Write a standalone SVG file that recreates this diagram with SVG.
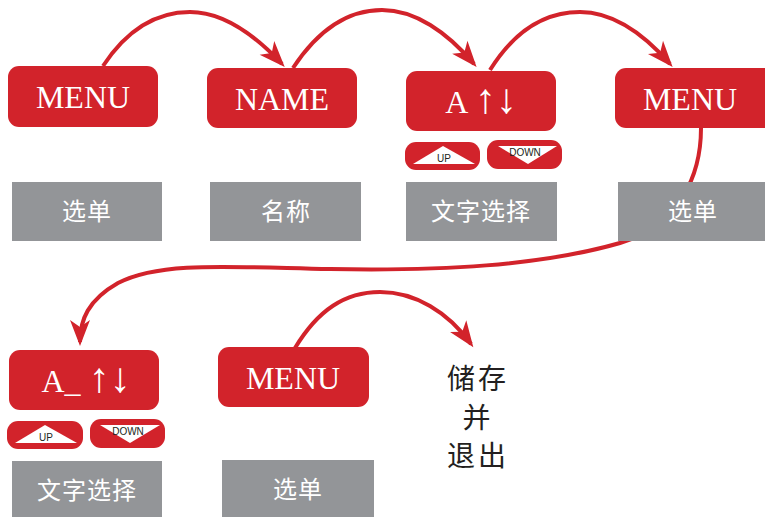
<svg xmlns="http://www.w3.org/2000/svg" width="765" height="517" viewBox="0 0 765 517">
<style>
.rb{fill:#d2232b}
.gb{fill:#939598}
.rt{fill:#fff;font-family:"Liberation Serif",serif;font-size:32px;text-anchor:middle}
.ar{font-size:42px}
.gt{fill:#fff;font-family:"Noto Sans CJK SC",sans-serif;font-size:24px;text-anchor:middle;letter-spacing:1px}
.tri{fill:#fff}
.st{fill:#231f20;font-family:"Liberation Sans",sans-serif;font-size:10px;text-anchor:middle}
.bt{fill:#231f20;font-family:"Noto Sans CJK SC",sans-serif;font-size:28px;text-anchor:middle;letter-spacing:3px}
.ln{fill:none;stroke:#d2232b;stroke-width:4}
</style>
<defs>
<marker id="ah" markerUnits="userSpaceOnUse" markerWidth="40" markerHeight="30" viewBox="-30 -15 40 30" refX="0" refY="0" orient="auto">
<path d="M4,0 L-22,-10 L-15,0 L-22,10 Z" fill="#d2232b"/>
</marker>
</defs>
<g id="connectors">
<path class="ln" marker-end="url(#ah)" d="M103,66 C130,25 160,12 190,12 C222,12 252,32 282,64"/>
<path class="ln" marker-end="url(#ah)" d="M293,68 C318,30 348,10 382,10 C415,10 447,32 474,64"/>
<path class="ln" marker-end="url(#ah)" d="M490,70 C515,30 545,12 580,12 C612,12 642,32 670,64"/>
<path class="ln" marker-end="url(#ah)" d="M701,128 C701,175 680,225 620,243 C540,266 440,271 330,269 C230,267 160,261 118,283 C88,300 80,320 80,342"/>
<path class="ln" marker-end="url(#ah)" d="M295,348 C318,310 345,292 380,292 C415,292 448,312 471,344"/>
</g>
<g id="n1"><rect class="rb" x="8" y="66" width="150" height="61" rx="11"/><text class="rt" x="83" y="108">MENU</text></g>
<g id="n2"><rect class="rb" x="207" y="68" width="150" height="60" rx="11"/><text class="rt" x="282" y="110">NAME</text></g>
<g id="n3"><rect class="rb" x="406" y="71" width="150" height="60" rx="11"/><text class="rt" x="481" y="113">A <tspan class="ar">↑↓</tspan></text></g>
<g id="n4"><rect class="rb" x="615" y="68" width="160" height="60" rx="11"/><text class="rt" x="690" y="110">MENU</text></g>
<g id="up1"><rect class="rb" x="405" y="142" width="75" height="28" rx="11"/><polygon class="tri" points="413,164 443,146 475,164"/><text class="st" x="444" y="162">UP</text></g>
<g id="down1"><rect class="rb" x="487" y="140" width="75" height="29" rx="11"/><polygon class="tri" points="498,146 557,146 528,164"/><text class="st" x="525" y="156">DOWN</text></g>
<g id="g1"><rect class="gb" x="12" y="182" width="150" height="59"/><text class="gt" x="87" y="220">选单</text></g>
<g id="g2"><rect class="gb" x="210" y="182" width="151" height="59"/><text class="gt" x="286" y="220">名称</text></g>
<g id="g3"><rect class="gb" x="406" y="182" width="151" height="59"/><text class="gt" x="481" y="220">文字选择</text></g>
<g id="g4"><rect class="gb" x="618" y="182" width="150" height="59"/><text class="gt" x="693" y="220">选单</text></g>
<g id="n5"><rect class="rb" x="9" y="350" width="150" height="60" rx="11"/><text class="rt" x="86" y="392">A_ <tspan class="ar">↑↓</tspan></text></g>
<g id="up2"><rect class="rb" x="7" y="421" width="76" height="28" rx="11"/><polygon class="tri" points="15,443 45,425 77,443"/><text class="st" x="46" y="441">UP</text></g>
<g id="down2"><rect class="rb" x="90" y="419" width="75" height="29" rx="11"/><polygon class="tri" points="100,425 160,425 130,443"/><text class="st" x="128" y="435">DOWN</text></g>
<g id="g5"><rect class="gb" x="12" y="461" width="150" height="56"/><text class="gt" x="87" y="499">文字选择</text></g>
<g id="n6"><rect class="rb" x="218" y="347" width="151" height="60" rx="11"/><text class="rt" x="293" y="389">MENU</text></g>
<g id="g6"><rect class="gb" x="222" y="460" width="152" height="57"/><text class="gt" x="298" y="498">选单</text></g>
<g id="save"><text class="bt" x="478" y="389">储存</text><text class="bt" x="478" y="428">并</text><text class="bt" x="478" y="466">退出</text></g>
</svg>
